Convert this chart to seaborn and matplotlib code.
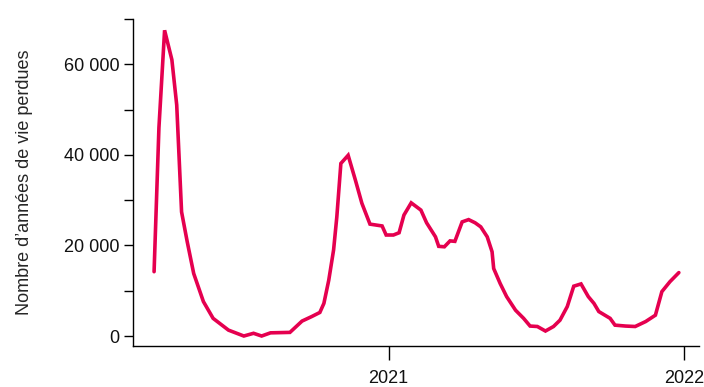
import pandas as pd
import numpy as np
import matplotlib.pyplot as plt
import matplotlib.ticker as mticker
import seaborn as sns

# ==============================================
# Data: years of life lost
# ==============================================

# days relative to 1 January 2021
jours = [-290, -284, -277, -268, -262, -256, -249, -241, -229, -217,
         -198, -179, -167, -157, -146, -122, -107, -95, -85, -80,
         -74, -68, -64, -59, -50, -41, -33, -23, -8, -3,
         6, 13, 19, 28, 40, 47, 58, 62, 69, 76,
         82, 91, 99, 107, 114, 122, 128, 130, 138, 146,
         157, 167, 175, 184, 194, 204, 212, 221, 229, 238,
         247, 254, 260, 274, 280, 293, 305, 318, 330, 338,
         348, 359]

annees_perdues = [14200, 46000, 67500, 61000, 51000, 27400, 20800, 13800, 7600, 3900,
                  1300, 0, 600, 0, 700, 800, 3300, 4300, 5200, 7200,
                  12300, 19000, 26300, 38100, 39900, 34400, 29300, 24700, 24300, 22300,
                  22300, 22800, 26700, 29400, 27800, 25000, 21900, 19800, 19700, 21000,
                  20900, 25200, 25700, 25000, 24100, 21900, 18600, 14900, 11600, 8700,
                  5700, 3900, 2200, 2100, 1100, 2100, 3500, 6500, 11000, 11500,
                  8700, 7200, 5400, 3900, 2400, 2200, 2100, 3200, 4600, 9800,
                  12000, 14000]

origine = pd.Timestamp("2021-01-01")
df = pd.DataFrame({
    "date": origine + pd.to_timedelta(jours, unit="D"),
    "annees": annees_perdues,
})

y_label = "Nombre d\u2019années de vie perdues"
x_ticks = ["2021-01-01", "2022-01-01"]
x_ticklabels = ["2021", "2022"]

# ==============================================
# Plot
# ==============================================

sns.set_style("ticks")
plt.rcParams["font.family"] = ["Liberation Sans", "DejaVu Sans"]

fig = plt.figure(figsize=(7.04, 3.87), dpi=100)
ax = fig.add_axes([0.189, 0.106, 0.804, 0.845])

sns.lineplot(data=df, x="date", y="annees", ax=ax, color="#E5004F",
             linewidth=2.6, solid_joinstyle="miter")

ax.set_xlim(origine - pd.Timedelta(days=316), origine + pd.Timedelta(days=384))
ax.set_ylim(-2200, 70000)

ax.set_xticks(pd.to_datetime(x_ticks))
ax.set_xticklabels(x_ticklabels)
ax.yaxis.set_major_locator(mticker.MultipleLocator(20000))
ax.yaxis.set_minor_locator(mticker.MultipleLocator(10000))
ax.yaxis.set_major_formatter(
    mticker.FuncFormatter(lambda v, p: f"{v:,.0f}".replace(",", " ")))

ax.tick_params(axis="y", which="both", length=6.5, width=1, labelsize=13,
               pad=3.5, color="black", labelcolor="#111111")
ax.tick_params(axis="x", length=10, width=1, labelsize=13, pad=7,
               color="black", labelcolor="#111111")

ax.set_xlabel("")
ax.set_ylabel(y_label, fontsize=13, labelpad=22)

for side in ["top", "right"]:
    ax.spines[side].set_visible(False)
for side in ["left", "bottom"]:
    ax.spines[side].set_linewidth(1)
    ax.spines[side].set_color("black")

fig.savefig("out.png", dpi=100)
